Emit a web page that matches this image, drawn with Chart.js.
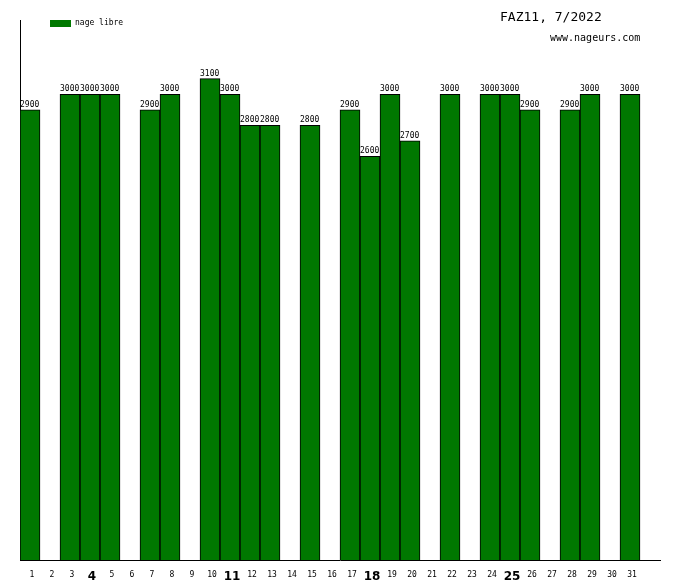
<!DOCTYPE html>
<html>
<head>
<meta charset="utf-8">
<script src="https://cdn.jsdelivr.net/npm/chart.js@4/dist/chart.umd.min.js"></script>
<style>
html,body{margin:0;padding:0;background:#fff;}
#wrap{width:680px;height:580px;position:relative;}
</style>
</head>
<body>
<div id="wrap"><canvas id="c" width="680" height="580"></canvas></div>
<script>
const days = ['1','2','3','4','5','6','7','8','9','10','11','12','13','14','15','16','17','18','19','20','21','22','23','24','25','26','27','28','29','30','31'];
const mondays = ['4','11','18','25'];
const nageLibre = [2900,0,3000,3000,3000,0,2900,3000,0,3100,3000,2800,2800,0,2800,0,2900,2600,3000,2700,0,3000,0,3000,3000,2900,0,2900,3000,0,3000];
const seriesName = 'nage libre';
const titleText = 'FAZ11, 7/2022';
const siteText = 'www.nageurs.com';

const mono = '"DejaVu Sans Mono", monospace';

const overlay = {
  id: 'overlay',
  afterDatasetsDraw(chart) {
    const ctx = chart.ctx;
    const meta = chart.getDatasetMeta(0);
    ctx.save();
    ctx.fillStyle = '#000';
    ctx.font = '8px ' + mono;
    ctx.textAlign = 'left';
    ctx.textBaseline = 'bottom';
    meta.data.forEach((bar, i) => {
      const v = nageLibre[i];
      if (!v) return;
      ctx.fillText(String(v), bar.x - bar.width / 2, bar.y - 1);
    });
    // legend
    ctx.fillStyle = '#007800';
    ctx.fillRect(50, 20, 21, 7);
    ctx.fillStyle = '#000';
    ctx.textBaseline = 'middle';
    ctx.font = '8px ' + mono;
    ctx.fillText(seriesName, 75, 23);
    // title
    ctx.font = '13px ' + mono;
    ctx.fillText(titleText, 500, 18);
    ctx.font = '10px ' + mono;
    ctx.fillText(siteText, 550, 38);
    ctx.restore();
  }
};

const points = nageLibre.map((v, i) => ({ x: Number(days[i]), y: v }));

new Chart(document.getElementById('c'), {
  type: 'bar',
  data: {
    datasets: [{
      label: seriesName,
      data: points,
      backgroundColor: '#007800',
      borderColor: '#000',
      borderWidth: 1,
      barPercentage: 1,
      categoryPercentage: 1
    }]
  },
  options: {
    responsive: false,
    animation: false,
    devicePixelRatio: 1,
    layout: { padding: { left: 20, right: 20, top: 20, bottom: 0 } },
    plugins: { legend: { display: false }, title: { display: false }, tooltip: { enabled: false } },
    scales: {
      x: {
        type: 'linear',
        min: 0.5,
        max: 32.5,
        offset: false,
        grid: { display: false },
        border: { display: true, color: '#000', width: 1 },
        afterBuildTicks: (s) => { s.ticks = days.map(d => ({ value: Number(d) })); },
        ticks: {
          color: '#000',
          maxRotation: 0,
          autoSkip: false,
          padding: 2,
          labelOffset: 2,
          callback: (v) => String(v),
          font: (c) => (c.tick && mondays.includes(String(c.tick.value))) ? { family: '"DejaVu Sans", sans-serif', size: 12, weight: 'bold' } : { family: mono, size: 8 }
        },
        afterFit: (s) => { s.height = 20; }
      },
      y: {
        min: 0,
        max: 3478,
        grid: { display: false },
        border: { display: true, color: '#000', width: 1 },
        ticks: { display: false },
        afterFit: (s) => { s.width = 0; }
      }
    }
  },
  plugins: [overlay]
});
</script>
</body>
</html>
